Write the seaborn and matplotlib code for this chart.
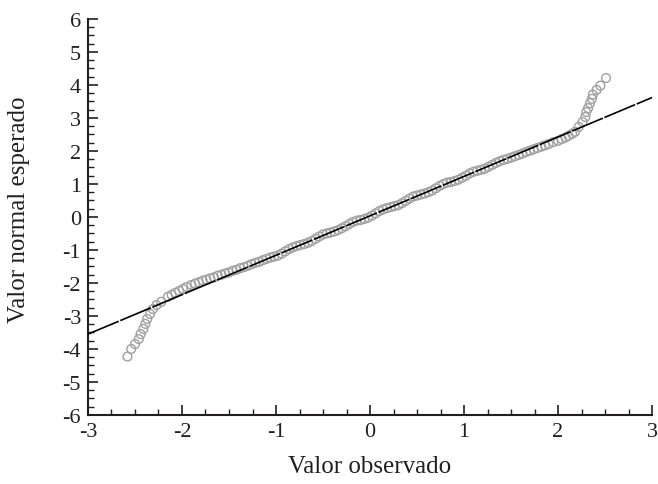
import matplotlib
matplotlib.use("Agg")
import matplotlib.pyplot as plt
from matplotlib.ticker import MultipleLocator
import seaborn as sns
import pandas as pd

# Observed (standardised) values and their expected normal scores
observed = [
    -2.58, -2.54, -2.50, -2.46, -2.44, -2.41, -2.39, -2.37, -2.34, -2.31,
    -2.27, -2.22, -2.15, -2.11, -2.07, -2.03, -1.99, -1.95, -1.90,
    -1.86, -1.82, -1.78, -1.74, -1.70, -1.66, -1.62, -1.58, -1.54, -1.50,
    -1.46, -1.42, -1.38, -1.34, -1.30, -1.26, -1.22, -1.18, -1.14, -1.10,
    -1.06, -1.02, -0.98, -0.94, -0.90, -0.86, -0.82, -0.78, -0.74, -0.70,
    -0.66, -0.62, -0.58, -0.54, -0.50, -0.46, -0.42, -0.38, -0.34, -0.30,
    -0.26, -0.22, -0.18, -0.14, -0.10, -0.06, -0.02, 0.02, 0.06, 0.10,
    0.14, 0.18, 0.22, 0.26, 0.30, 0.34, 0.38, 0.42, 0.46, 0.50,
    0.54, 0.58, 0.62, 0.66, 0.70, 0.74, 0.78, 0.82, 0.86, 0.90,
    0.94, 0.98, 1.02, 1.06, 1.10, 1.14, 1.18, 1.22, 1.26, 1.30,
    1.34, 1.38, 1.42, 1.46, 1.50, 1.54, 1.58, 1.62, 1.66, 1.70,
    1.74, 1.78, 1.82, 1.86, 1.90,
    1.95, 2.00, 2.04, 2.08, 2.11, 2.15, 2.18, 2.22, 2.26, 2.29,
    2.30, 2.32, 2.34, 2.36, 2.37, 2.41, 2.45, 2.51,
]
expected = [
    -4.23, -4.00, -3.85, -3.70, -3.55, -3.39, -3.24, -3.09, -2.94, -2.79,
    -2.67, -2.57, -2.42, -2.36, -2.30, -2.24, -2.18, -2.12, -2.06,
    -2.02, -1.98, -1.93, -1.90, -1.86, -1.83, -1.78, -1.75, -1.71, -1.68,
    -1.63, -1.60, -1.55, -1.52, -1.48, -1.43, -1.39, -1.36, -1.31, -1.27,
    -1.23, -1.20, -1.17, -1.11, -1.04, -0.97, -0.92, -0.88, -0.85, -0.82,
    -0.78, -0.73, -0.66, -0.59, -0.53, -0.50, -0.47, -0.44, -0.40, -0.34,
    -0.28, -0.21, -0.15, -0.11, -0.09, -0.06, -0.02, 0.04, 0.11, 0.18,
    0.23, 0.27, 0.30, 0.33, 0.36, 0.42, 0.49, 0.56, 0.62, 0.65,
    0.68, 0.71, 0.75, 0.80, 0.87, 0.94, 1.00, 1.04, 1.06, 1.09,
    1.13, 1.19, 1.25, 1.32, 1.37, 1.40, 1.43, 1.46, 1.52, 1.58,
    1.64, 1.69, 1.73, 1.76, 1.80, 1.84, 1.88, 1.92, 1.97, 2.01,
    2.05, 2.09, 2.13, 2.17, 2.21,
    2.27, 2.31, 2.36, 2.41, 2.46, 2.52, 2.58, 2.73, 2.88, 3.03,
    3.18, 3.30, 3.45, 3.58, 3.71, 3.85, 3.98, 4.21,
]

# Reference normal line
line_x = [-3.0, 3.0]
line_y = [-3.55, 3.62]

x_ticks = [-3, -2, -1, 0, 1, 2, 3]
x_tick_labels = ["-3", "-2", "-1", "0", "1", "2", "3"]
y_ticks = [-6, -5, -4, -3, -2, -1, 0, 1, 2, 3, 4, 5, 6]
y_tick_labels = ["-6", "-5", "-4", "-3", "-2", "-1", "0", "1", "2", "3", "4", "5", "6"]

x_label = "Valor observado"
y_label = "Valor normal esperado"

sns.set_style("ticks")
plt.rcParams["font.family"] = ["Liberation Serif", "DejaVu Serif"]

points = pd.DataFrame({"obs": observed, "exp": expected})
ref = pd.DataFrame({"x": line_x, "y": line_y})

ink = "#231f20"

fig = plt.figure(figsize=(6.58, 4.85), dpi=100)
ax = fig.add_axes([0.1337, 0.1423, 0.8573, 0.8165])

sns.scatterplot(data=points, x="obs", y="exp", ax=ax, marker="o",
                s=40, facecolors="none", edgecolor="#a0a0a0",
                linewidth=1.0, zorder=2)
sns.lineplot(data=ref, x="x", y="y", ax=ax, color="black",
             linewidth=1.2, linestyle=(0, (20, 1)), zorder=3)

ax.set_xlim(-3, 3)
ax.set_ylim(-6, 6)
ax.set_xticks(x_ticks)
ax.set_xticklabels(x_tick_labels)
ax.set_yticks(y_ticks)
ax.set_yticklabels(y_tick_labels)
ax.xaxis.set_minor_locator(MultipleLocator(0.25))
ax.yaxis.set_minor_locator(MultipleLocator(0.25))

ax.tick_params(which="major", direction="in", length=7, width=1.2,
               labelsize=16, color=ink, labelcolor=ink, pad=5)
ax.tick_params(which="minor", direction="in", length=4.5, width=1.0,
               color=ink)

for side in ("top", "right"):
    ax.spines[side].set_visible(False)
for side in ("left", "bottom"):
    ax.spines[side].set_linewidth(1.5)
    ax.spines[side].set_color(ink)

ax.set_xlabel(x_label, fontsize=18, color=ink, labelpad=10)
ax.set_ylabel(y_label, fontsize=18, color=ink)
ax.yaxis.set_label_coords(-0.103, 0.52)

fig.savefig("out.png", dpi=100)
